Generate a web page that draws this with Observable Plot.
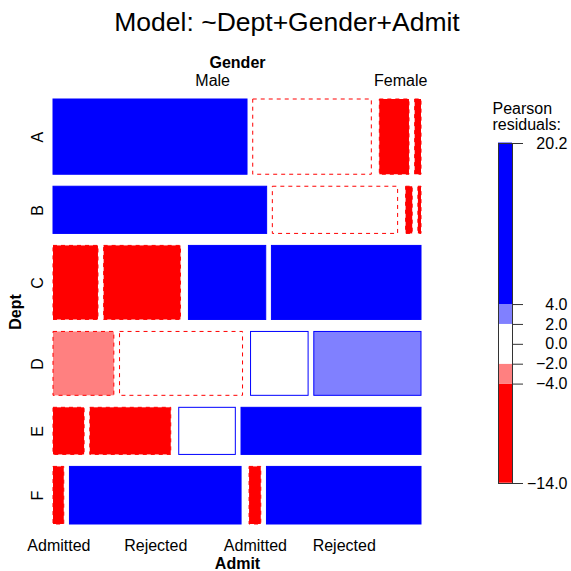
<!DOCTYPE html>
<html><head><meta charset="utf-8">
<script src="https://cdn.jsdelivr.net/npm/d3@7"></script>
<script src="https://cdn.jsdelivr.net/npm/@observablehq/plot@0.6"></script>
<style>
html,body{margin:0;padding:0;background:#fff;}
#wrap{position:relative;width:571px;height:571px;font-family:"Liberation Sans",Arial,Helvetica,sans-serif;}
#title{position:absolute;left:0;top:6px;width:574px;text-align:center;font-size:26.5px;line-height:32px;color:#000;}
#wrap svg{position:absolute;left:0;top:0;}
</style></head><body><div id="wrap"><div id="title">Model: ~Dept+Gender+Admit</div></div>
<script>
// ---- data (UCBAdmissions) ----
const depts = ["A","B","C","D","E","F"];
const genders = ["Male","Female"];
const admits = ["Admitted","Rejected"];
const maleAdmitted   = [512, 353, 120, 138,  53,  22];
const maleRejected   = [313, 207, 205, 279, 138, 351];
const femaleAdmitted = [ 89,  17, 202, 131,  94,  24];
const femaleRejected = [ 19,   8, 391, 244, 299, 317];
const legendBreaks = [-4, -2, 0, 2, 4];

// ---- counts & Pearson residuals under mutual independence ----
const counts = depts.map((_, i) => [[maleAdmitted[i], maleRejected[i]], [femaleAdmitted[i], femaleRejected[i]]]);
const N = d3.sum(counts.flat(2));
const deptTot = counts.map(c => d3.sum(c.flat()));
const genderTot = [0, 1].map(g => d3.sum(counts, c => c[g][0] + c[g][1]));
const admitTot = [0, 1].map(a => d3.sum(counts, c => c[0][a] + c[1][a]));

// ---- mosaic layout (fractions of the panel) ----
const gapDept = 12 / 425, gapGender = 8 / 368, gapAdmit = 5.7 / 368;
const tiles = [];
const rowInfo = [];
let yc = 0;
const availY = 1 - (depts.length - 1) * gapDept;
depts.forEach((dp, i) => {
  const h = availY * deptTot[i] / N;
  const y0 = yc, y1 = yc + h;
  rowInfo.push({dept: dp, y: (y0 + y1) / 2, blocks: []});
  const gTot = counts[i].map(r => r[0] + r[1]);
  let xc = 0;
  genders.forEach((gn, g) => {
    const w = (1 - gapGender) * gTot[g] / deptTot[i];
    const gx0 = xc, gx1 = xc + w;
    rowInfo[i].blocks.push({gender: gn, x: (gx0 + gx1) / 2});
    let xa = gx0;
    admits.forEach((ad, a) => {
      const wa = (w - gapAdmit) * counts[i][g][a] / gTot[g];
      const obs = counts[i][g][a];
      const exp = deptTot[i] * genderTot[g] * admitTot[a] / (N * N);
      const res = (obs - exp) / Math.sqrt(exp);
      tiles.push({dept: dp, gender: gn, admit: ad, obs, res, x0: xa, x1: xa + wa, y0, y1});
      xa += wa + gapAdmit;
    });
    xc = gx1 + gapGender;
  });
  yc = y1 + gapDept;
});

function fillFor(r) {
  if (r > 4) return "#0000FF";
  if (r > 2) return "#8080FF";
  if (r >= -2) return "#FFFFFF";
  if (r >= -4) return "#FF8080";
  return "#FF0000";
}

const genderLabels = rowInfo[0].blocks.map(b => ({x: b.x, label: b.gender}));
const lastRow = tiles.filter(t => t.dept === depts[depts.length - 1]);
const admitLabels = lastRow.map(t => ({x: (t.x0 + t.x1) / 2, label: t.admit}));

const font = '"Liberation Sans", Arial, Helvetica, sans-serif';
const mid = {textAnchor: "middle", lineAnchor: "middle", fontSize: 16};

const main = Plot.plot({
  width: 571, height: 571,
  marginLeft: 53, marginRight: 150, marginTop: 99, marginBottom: 47,
  x: {domain: [0, 1], axis: null},
  y: {domain: [0, 1], reverse: true, axis: null},
  color: {type: "identity"},
  style: {fontFamily: font, fontSize: "16px", background: "transparent", color: "#000"},
  marks: [
    Plot.rect(tiles.filter(d => d.res >= 0), {x1: "x0", x2: "x1", y1: "y0", y2: "y1", fill: d => fillFor(d.res), stroke: "#0000FF", strokeWidth: 1}),
    Plot.rect(tiles.filter(d => d.res < 0), {x1: "x0", x2: "x1", y1: "y0", y2: "y1", fill: d => fillFor(d.res), stroke: "#FF0000", strokeWidth: 1, strokeDasharray: "4,4"}),
    Plot.text(["Gender"], {...mid, frameAnchor: "top", dy: -37, text: d => d, fontWeight: "bold"}),
    Plot.text(genderLabels, {...mid, x: "x", y: 0, dy: -19, text: "label"}),
    Plot.text(["Dept"], {...mid, frameAnchor: "left", dx: -38, rotate: -90, text: d => d, fontWeight: "bold"}),
    Plot.text(rowInfo, {...mid, x: 0, y: "y", dx: -16, rotate: -90, text: "dept"}),
    Plot.text(admitLabels, {...mid, x: "x", y: 1, dy: 21, text: "label"}),
    Plot.text(["Admit"], {...mid, frameAnchor: "bottom", dy: 39, text: d => d, fontWeight: "bold"})
  ]
});
document.getElementById("wrap").appendChild(main);

// ---- legend ----
const rMax = d3.max(tiles, d => d.res), rMin = d3.min(tiles, d => d.res);
const edges = [rMin, ...legendBreaks.filter(b => b !== 0), rMax];
const segs = d3.pairs(edges).map(([a, b]) => ({a, b, fill: fillFor((a + b) / 2)}));
const legendTicks = [+rMax.toFixed(1), ...legendBreaks.slice().reverse(), +rMin.toFixed(1)];
const fmt = v => (v < 0 ? "\u2212" : "") + Math.abs(v).toFixed(1);

const legend = Plot.plot({
  width: 571, height: 571,
  marginLeft: 498, marginRight: 59, marginTop: 143, marginBottom: 88,
  x: {domain: [0, 1], axis: null},
  y: {domain: [+rMin.toFixed(1), +rMax.toFixed(1)], axis: null},
  color: {type: "identity"},
  style: {fontFamily: font, fontSize: "16px", background: "transparent", color: "#000"},
  marks: [
    Plot.rect(segs, {x1: 0, x2: 1, y1: "a", y2: "b", fill: "fill"}),
    Plot.frame({stroke: "#333"}),
    Plot.axisY({anchor: "right", ticks: legendTicks, tickSize: 10, tickPadding: 45, textAnchor: "end", tickFormat: fmt, fontSize: 16, stroke: "#333", fill: "#000"}),
    Plot.text(["Pearson"], {frameAnchor: "top-left", dx: -6, dy: -35, textAnchor: "start", lineAnchor: "middle", text: d => d, fontSize: 16}),
    Plot.text(["residuals:"], {frameAnchor: "top-left", dx: -6, dy: -19, textAnchor: "start", lineAnchor: "middle", text: d => d, fontSize: 16})
  ]
});
document.getElementById("wrap").appendChild(legend);
</script></body></html>
